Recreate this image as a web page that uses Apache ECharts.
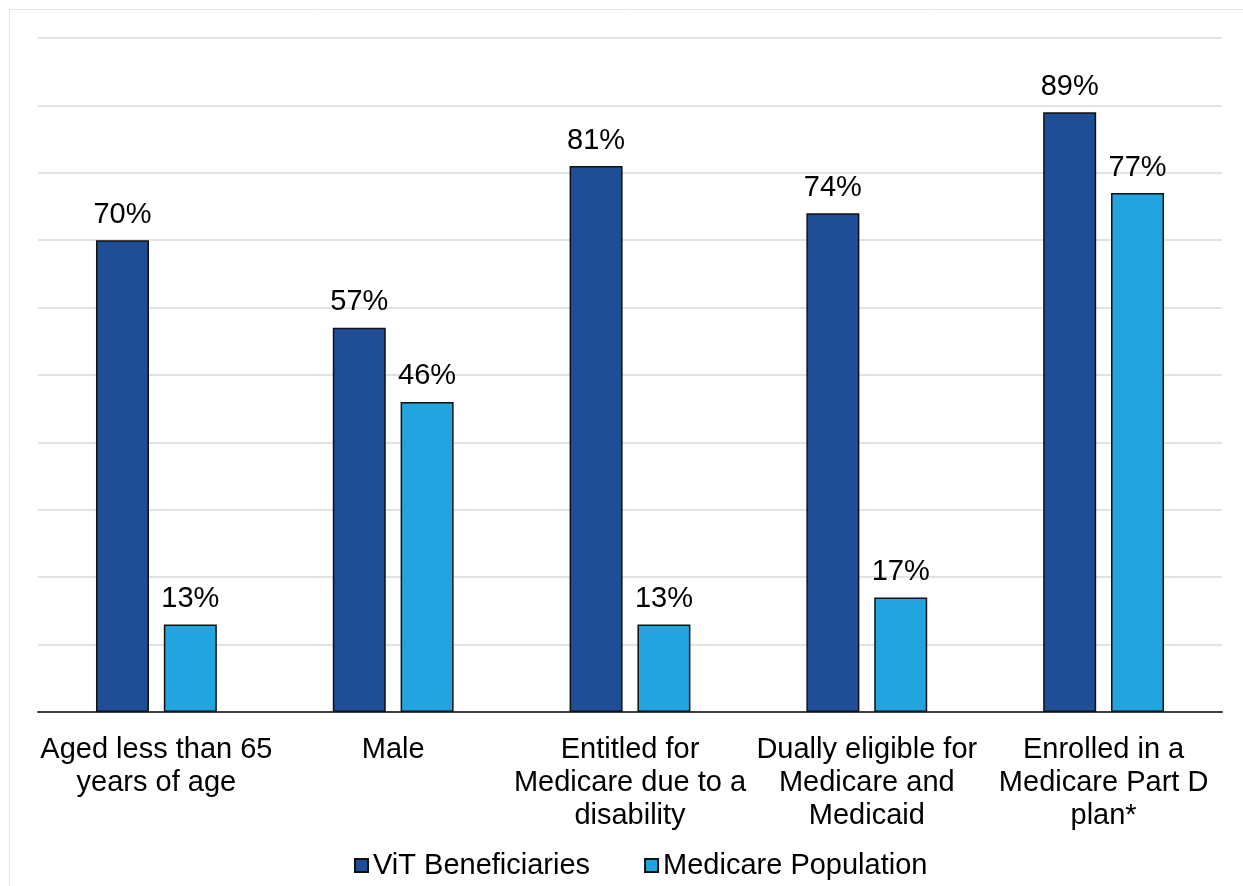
<!DOCTYPE html>
<html lang="en">
<head>
<meta charset="utf-8">
<title>ViT vs Medicare</title>
<script src="https://cdn.jsdelivr.net/npm/echarts@6/dist/echarts.min.js"></script>
<style type="text/css">
html, body {
	margin: 0;
	padding: 0;
	background: #fff;
}
#main {
	width: 1243px;
	height: 886px;
}
</style>
</head>
<body>
	<div id="main"></div>
	<script>
		// categories (x axis labels, wrapped like the original)
		var categories = [ 'Aged less than 65\nyears of age', 'Male',
				'Entitled for\nMedicare due to a\ndisability',
				'Dually eligible for\nMedicare and\nMedicaid',
				'Enrolled in a\nMedicare Part D\nplan*' ];
		// percent values
		var vitValues = [ 70, 57, 81, 74, 89 ];
		var medicareValues = [ 13, 46, 13, 17, 77 ];
		var seriesNames = [ 'ViT Beneficiaries', 'Medicare Population' ];

		var font = 'Liberation Sans, Arial, Helvetica, sans-serif';

		var myChart = echarts.init(document.getElementById('main'));

		var barLabel = {
			show : true,
			position : 'top',
			distance : 11,
			color : '#000',
			fontSize : 29,
			fontFamily : font,
			formatter : '{c}%'
		};

		var option = {
			animation : false,
			textStyle : {
				fontFamily : font
			},
			// light frame round the whole picture
			graphic : [ {
				type : 'rect',
				left : 7,
				top : 7,
				shape : {
					width : 1240,
					height : 890
				},
				style : {
					fill : 'none',
					stroke : '#e6e6e6',
					lineWidth : 1
				},
				silent : true
			} ],
			grid : {
				left : 38,
				right : 21,
				top : 38,
				bottom : 174
			},
			legend : {
				bottom : 1,
				left : 349,
				itemWidth : 13,
				itemHeight : 13,
				itemGap : 54,
				icon : 'rect',
				textStyle : {
					fontSize : 29,
					color : '#000',
					fontFamily : font
				},
				data : seriesNames
			},
			xAxis : {
				type : 'category',
				data : categories,
				axisLine : {
					lineStyle : {
						color : '#404040',
						width : 2
					}
				},
				axisTick : {
					show : false
				},
				axisLabel : {
					interval : 0,
					margin : 21,
					fontSize : 29,
					lineHeight : 33,
					color : '#000',
					fontFamily : font
				}
			},
			yAxis : {
				type : 'value',
				min : 0,
				max : 100,
				interval : 10,
				axisLabel : {
					show : false
				},
				axisLine : {
					show : false
				},
				axisTick : {
					show : false
				},
				splitLine : {
					lineStyle : {
						color : '#d9d9d9',
						width : 1.5
					}
				}
			},
			series : [ {
				name : seriesNames[0],
				type : 'bar',
				data : vitValues,
				barWidth : 53,
				barGap : '28%',
				itemStyle : {
					color : '#1f4e96',
					borderColor : '#111',
					borderWidth : 1.5
				},
				label : barLabel
			}, {
				name : seriesNames[1],
				type : 'bar',
				data : medicareValues,
				barWidth : 53,
				itemStyle : {
					color : '#22a4df',
					borderColor : '#111',
					borderWidth : 1.5
				},
				label : barLabel
			} ]
		};
		myChart.setOption(option);
	</script>
</body>
</html>
